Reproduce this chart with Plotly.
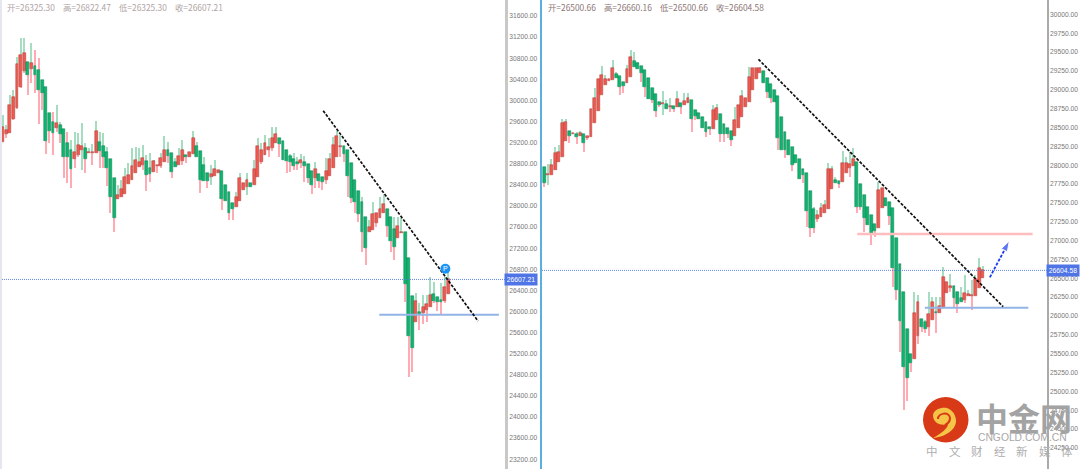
import numpy as np
import plotly.graph_objects as go

W, H = 1080, 469

# ---- left chart values (open / high / low / close) ----
L_OPEN = [29218,29357,29389,29654,29856,30261,30564,30734,30602,30652,30576,30387,30261,29755,29591,29484,29528,29452,29187,29060,
          28883,28959,29060,29092,28997,28997,29010,29206,29136,29029,28883,28523,28132,28176,28220,28410,28492,28618,28745,28776,
          28852,28713,28650,28757,28763,28833,29060,28997,28827,28776,28852,28972,28934,28978,29136,29048,28770,28618,28542,28574,
          28631,28656,28397,28258,28050,27987,28088,28302,28353,28429,28403,28555,28833,28966,29060,29092,29199,29281,29231,29054,
          28953,28890,28839,28808,28839,28795,28662,28530,28612,28542,28492,28574,28726,28934,29124,29136,29054,28814,28485,28277,
          28069,27791,27500,27538,27683,27772,27860,27936,27784,27557,27387,27494,27506,27020,26288,25795,25984,25978,26035,26092,
          26326,26269,26225,26206,26325.30]
L_HIGH = [29724,29534,30103,30197,30829,31189,31189,30734,31094,30955,30798,30387,30261,29755,29787,29913,29597,29452,29408,29250,
          29408,29376,29566,29187,29092,29174,29610,29408,29376,29124,28883,28523,28397,28492,28713,28808,29092,29124,29092,29155,
          28966,28997,28858,28782,28997,29326,29218,28997,28902,29092,29250,28972,29016,29420,29218,29048,28934,28618,28776,28871,
          28681,28656,28397,28258,28050,28271,28631,28429,28618,28429,28871,29281,29187,29345,29281,29502,29502,29281,29231,29054,
          28984,28997,28934,28978,28947,28795,28662,28839,28612,28542,28902,28997,29313,29427,29345,29136,29054,28814,28485,28277,
          28176,27791,27734,28081,27860,28176,28220,27936,27784,27797,27797,27765,27506,27020,26288,26344,26155,26313,26313,26660,
          26566,26269,26534,26660,26822.47]
L_LOW = [29218,29281,29389,29629,29850,30248,30513,30103,30324,30134,29547,29818,28985,29199,28966,29408,29199,28523,28429,28347,
         28713,28934,28681,28631,28997,28776,29010,28713,28713,28378,27860,27513,28132,28176,28220,28410,28492,28618,28745,28681,
         28290,28460,28650,28618,28713,28833,28808,28523,28732,28776,28776,28808,28934,28978,28934,28252,28479,28334,28397,28574,
         28631,27923,28100,27734,27734,27987,28088,28302,28207,28365,28403,28555,28808,28966,28934,29048,29199,28934,28871,28618,
         28650,28681,28681,28713,28460,28429,28227,28334,28334,28302,28416,28574,28726,28934,28934,28839,28176,28050,27860,27702,
         27134,26881,27500,27538,27608,27772,27860,27418,27134,26976,27387,27494,26187,24765,24860,25795,25650,25757,25795,26092,
         26155,26010,25947,26155,26325.30]
L_CLOSE = [29503,29439,29913,30058,30690,30861,30892,30488,30703,30475,30197,30147,29237,29427,29389,29566,29364,28921,28934,28707,
           29029,29155,29142,28890,29022,29022,29420,29048,28921,28726,28163,27765,28207,28328,28555,28587,28757,28871,28827,28902,
           28587,28599,28846,28782,28909,29060,28947,28650,28732,28947,29060,28921,29016,29294,28934,28492,28479,28473,28605,28694,
           28681,28125,28100,27860,27936,28176,28530,28429,28485,28365,28700,29136,29060,29187,29124,29294,29364,29168,28871,28858,
           28839,28763,28789,28865,28757,28523,28403,28694,28473,28448,28656,28896,29149,29319,29136,28978,28574,28157,28069,27854,
           27513,27197,27595,27841,27860,27936,28031,27620,27336,27229,27614,27506,26515,25542,25302,26199,25947,26092,26142,26313,
           26206,26187,26174,26465,26607.21]

# ---- right chart values (open / high / low / close) ----
R_OPEN = [27980,27874,27870,27936,28046,28113,28325,28457,28413,28413,28391,28409,28360,28369,28555,28723,28926,29067,29116,29125,
          29204,29187,29107,29085,29173,29386,29350,29315,29266,29156,29019,28948,28837,28815,28815,28776,28789,28771,28820,28793,
          28820,28864,28736,28696,28634,28568,28506,28484,28599,28678,28546,28493,28449,28391,28497,28643,28776,28833,28992,29147,
          29218,29249,29160,29076,28992,28917,28634,28440,28334,28241,28130,28082,27945,27900,27657,27414,27286,27308,27361,27414,
          27679,27803,27786,27772,27892,27958,27989,28037,27746,27600,27450,27335,27215,27171,27428,27560,27511,27428,27030,26689,
          26318,25823,25492,25430,25735,25960,25916,25859,25942,26057,26044,26102,26300,26376,26393,26323,26234,26212,26261,26265,
          26270,26376,26500.66]
R_HIGH = [27980,28015,28077,28245,28267,28612,28612,28457,28422,28444,28457,28409,28387,28745,29019,29138,29315,29195,29147,29394,
          29240,29187,29107,29328,29527,29505,29372,29315,29266,29156,29019,28948,28837,28983,28864,28886,28789,28988,28820,28952,
          28952,28864,28736,28696,28634,28568,28506,28798,28811,28678,28546,28493,28449,28767,28793,28997,28886,29306,29293,29293,
          29293,29249,29160,29076,28992,28917,28634,28440,28334,28241,28130,28082,27945,27900,27657,27450,27400,27494,27538,28024,
          27989,27839,27786,28188,28113,28179,28223,28037,27746,27600,27450,27335,27215,27781,27693,27560,27511,27428,27030,26689,
          26318,25823,25492,26323,26278,25960,25947,26314,26256,26256,26256,26645,26446,26552,26393,26323,26389,26544,26345,26477,
          26544,26765,26660.16]
R_LOW = [27706,27737,27870,27936,28046,28113,28325,28289,28413,28281,28391,28179,28334,28369,28555,28723,28926,29067,29116,29125,
         29160,28930,28961,29085,29173,29306,29275,29107,28908,28882,28820,28634,28775,28661,28740,28709,28709,28771,28674,28793,
         28820,28444,28600,28608,28497,28378,28400,28484,28599,28312,28312,28356,28258,28391,28497,28643,28776,28833,28992,29147,
         29218,29089,28886,28820,28842,28201,28201,28090,28139,27927,28033,27812,27768,27184,27050,27100,27240,27308,27361,27414,
         27679,27768,27693,27772,27892,27847,27989,27361,27405,27118,27207,26941,27050,27171,27428,27463,27207,26389,26212,25527,
         24754,24873,25262,25430,25624,25792,25770,25739,25942,25779,26044,26102,26300,26320,26124,26035,26190,26168,26261,26080,
         26270,26376,26500.66]
R_CLOSE = [27768,27883,28002,28157,28179,28555,28577,28391,28422,28373,28422,28298,28387,28745,28895,29138,29191,29147,29147,29284,
           29160,29032,29054,29275,29430,29306,29275,29218,29041,28882,28864,28723,28798,28820,28740,28784,28749,28873,28771,28855,
           28890,28608,28656,28608,28497,28440,28475,28727,28758,28413,28418,28418,28334,28599,28793,28913,28886,29165,29293,29293,
           29284,29089,28975,28886,28842,28356,28201,28201,28139,28007,28033,27812,27865,27397,27162,27162,27335,27432,27467,27945,
           27945,27768,27755,28024,28024,28015,28082,27450,27450,27295,27207,27083,27127,27671,27693,27463,27330,26632,26345,25934,
           25328,25173,25372,26044,26181,25859,25828,26022,26181,26035,26137,26522,26446,26402,26234,26159,26190,26305,26296,26278,
           26486,26632,26604.58]

# upper wicks drawn pink / lower wicks drawn green, where the reference differs from the usual pair
L_PINK_UP = [9, 10, 14, 18]
L_GREEN_DOWN = [22, 58, 68]
R_PINK_UP = []
R_GREEN_DOWN = [1, 33]

L_TICKS = [23200 + 400 * k for k in range(22)]
R_TICKS = [24000 + 250 * k for k in range(25)]

L_HEADER = ["开=26325.30", "高=26822.47", "低=26325.30", "收=26607.21"]
R_HEADER = ["开=26500.66", "高=26660.16", "低=26500.66", "收=26604.58"]
L_LAST = 26607.21
R_LAST = 26604.58
SLOGAN = ["中", "文", "财", "经", "新", "媒", "体"]

# drawings on the charts: bar index, price
L_TREND_X, L_TREND_Y = [89.2, 132.3], [29805, 25820]
L_SUP_X, L_SUP_Y = [104.8, 138.1], [25940, 25940]
R_TREND_X, R_TREND_Y = [59.6, 127.7], [29404, 26123]
R_SUP_X, R_SUP_Y = [105.9, 134.7], [26110, 26110]
R_RES_X, R_RES_Y = [87.1, 135.9], [27087, 27087]
R_ARROW_X, R_ARROW_Y = [124.0, 129.4], [26513, 26994]

RED, RED_EDGE = "#ef5a50", "#a83a36"
GREEN, GREEN_EDGE = "#0fb56f", "#0b7a4e"
WICK_G, WICK_P = "#a6dcc0", "#ffabb4"


def px(x):
    return x / W


def py(y):
    return 1 - y / H


def add_candles(fig, o, h, l, c, pink_up, green_down, xa, ya):
    o, h, l, c = map(np.array, (o, h, l, c))
    x = np.arange(len(o))
    top, bot = np.maximum(o, c), np.minimum(o, c)
    up_col = [WICK_P if i in pink_up else WICK_G for i in x]
    dn_col = [WICK_G if i in green_down else WICK_P for i in x]
    common = dict(xaxis=xa, yaxis=ya, showlegend=False, hoverinfo="skip")
    fig.add_trace(go.Bar(x=x, y=h - top, base=top, width=0.3, marker=dict(color=up_col, line_width=0), **common))
    fig.add_trace(go.Bar(x=x, y=bot - l, base=l, width=0.3, marker=dict(color=dn_col, line_width=0), **common))
    is_up = c >= o
    fig.add_trace(go.Bar(
        x=x, y=top - bot, base=bot, width=0.8,
        marker=dict(color=[RED if u else GREEN for u in is_up],
                    line=dict(color=[RED_EDGE if u else GREEN_EDGE for u in is_up], width=0.5)),
        **common))


def add_line(fig, x, y, color, width, dash, xa, ya):
    fig.add_trace(go.Scatter(x=x, y=y, mode="lines", line=dict(color=color, width=width, dash=dash),
                             xaxis=xa, yaxis=ya, showlegend=False, hoverinfo="skip"))


fig = go.Figure()
add_candles(fig, L_OPEN, L_HIGH, L_LOW, L_CLOSE, L_PINK_UP, L_GREEN_DOWN, "x", "y")
add_candles(fig, R_OPEN, R_HIGH, R_LOW, R_CLOSE, R_PINK_UP, R_GREEN_DOWN, "x2", "y2")

L_RANGE = [-0.19, 139.8]
R_RANGE = [-0.64, 139.9]

add_line(fig, L_RANGE, [L_LAST, L_LAST], "#4f78e0", 0.9, "1px,1px", "x", "y")
add_line(fig, R_RANGE, [R_LAST, R_LAST], "#4f78e0", 0.9, "1px,1px", "x2", "y2")
add_line(fig, L_SUP_X, L_SUP_Y, "#92b4e6", 2, "solid", "x", "y")
add_line(fig, L_TREND_X, L_TREND_Y, "#111111", 1.7, "3px,1.5px", "x", "y")
add_line(fig, R_RES_X, R_RES_Y, "#ffbcbc", 2.5, "solid", "x2", "y2")
add_line(fig, R_SUP_X, R_SUP_Y, "#92b4e6", 2, "solid", "x2", "y2")
add_line(fig, R_TREND_X, R_TREND_Y, "#111111", 1.7, "3px,1.5px", "x2", "y2")

# blue arrow
fig.add_trace(go.Scatter(x=R_ARROW_X, y=R_ARROW_Y, mode="lines+markers",
                         line=dict(color="#1a3df0", width=1.8, dash="3px,1.5px"),
                         marker=dict(symbol="arrow", angleref="previous", size=[0, 11], color="#1a3df0"),
                         xaxis="x2", yaxis="y2", showlegend=False, hoverinfo="skip"))

# "P" badge
fig.add_trace(go.Scatter(x=[123.2], y=[26810], mode="markers+text", text=["P"], textposition="middle center",
                         textfont=dict(color="white", size=7, family="Liberation Sans"),
                         marker=dict(color="#1b93f5", size=10), xaxis="x", yaxis="y",
                         showlegend=False, hoverinfo="skip"))

axis_common = dict(showgrid=False, zeroline=False, fixedrange=True)
yaxis_common = dict(axis_common, side="right", ticks="", tickformat=".2f", showline=True,
                    tickfont=dict(family="Liberation Sans", size=6.7, color="#777777"))


def pts(*pairs):
    return [f"{px(a):.5f} {py(b):.5f}" for a, b in pairs]


blob = pts((933, 415), (934, 409), (942, 407), (947, 408), (953, 410), (956, 416), (956, 421),
           (956, 430), (945, 437), (933, 438), (942, 433), (948, 428), (948, 424),
           (942, 426), (933, 424), (933, 415))
blob_path = "M {} C {} {} {} C {} {} {} C {} {} {} C {} {} {} C {} {} {} Z".format(*blob)
curl = pts((938, 419), (938, 413), (949, 411), (950, 418), (950, 422), (948, 423), (945, 425))
curl_path = "M {} C {} {} {} C {} {} {}".format(*curl)

shapes = [
    dict(type="rect", xref="paper", yref="paper", x0=0, x1=px(2), y0=0, y1=1,
         fillcolor="#e6e6f0", line_width=0, layer="below"),
    dict(type="line", xref="paper", yref="paper", x0=px(541), x1=px(541), y0=0, y1=1,
         line=dict(color="#5aaee0", width=2)),
    # watermark logo
    dict(type="circle", xref="paper", yref="paper", x0=px(923), x1=px(968.5), y0=py(442.5), y1=py(397),
         fillcolor="#d83a18", line_width=0),
    dict(type="path", xref="paper", yref="paper", line_width=0, fillcolor="#f5c548", path=blob_path),
    dict(type="path", xref="paper", yref="paper", line=dict(color="#d83a18", width=2), path=curl_path),
]

annotations = []


def text(x, y, s, size, color, family="Noto Sans CJK SC", anchor="left", **kw):
    annotations.append(dict(xref="paper", yref="paper", x=px(x), y=py(y), text=s, showarrow=False,
                            xanchor=anchor, yanchor="middle", font=dict(family=family, size=size, color=color), **kw))


for x0, s in zip([5, 61, 117, 173], L_HEADER):
    text(x0, 7, s, 8.4, "#b0a4a4")
for x0, s in zip([545.7, 602, 658, 714], R_HEADER):
    text(x0, 7, s, 8.4, "#8d7676")

for cx, cy, val in [(521, 279.5, L_LAST), (1063, 270.5, R_LAST)]:
    text(cx, cy, f"{val:.2f}", 6.8, "white", "Liberation Sans", "center",
         bgcolor="#4f74e6", borderpad=1, width=30, height=9, align="center")

text(974, 417, "<b>中金网</b>", 32, "#a3a3a3")
text(975.5, 437.5, "CNGOLD.COM.CN", 10.3, "#a8a8a8", "Liberation Sans")
for k, ch in enumerate(SLOGAN):
    text(932 + k * 22.5, 451, ch, 11.5, "#adadad", anchor="center")

fig.update_layout(
    width=W, height=H, margin=dict(l=0, r=0, t=0, b=0),
    paper_bgcolor="white", plot_bgcolor="white", barmode="overlay", bargap=0,
    xaxis=dict(axis_common, domain=[px(2), px(505)], range=L_RANGE, showticklabels=False, ticks=""),
    xaxis2=dict(axis_common, domain=[px(542), px(1047)], range=R_RANGE, showticklabels=False, ticks="", anchor="y2"),
    yaxis=dict(yaxis_common, range=[23015, 31903], tickvals=L_TICKS, anchor="x", linecolor="#c8c8c8", linewidth=3),
    yaxis2=dict(yaxis_common, range=[23971, 30190], tickvals=R_TICKS, anchor="x2", linecolor="#aaaaaa", linewidth=1.5),
    shapes=shapes, annotations=annotations, font=dict(family="Liberation Sans"),
)

fig.write_html("out.html", post_script="document.body.style.margin='0';",
               config=dict(displayModeBar=False))
